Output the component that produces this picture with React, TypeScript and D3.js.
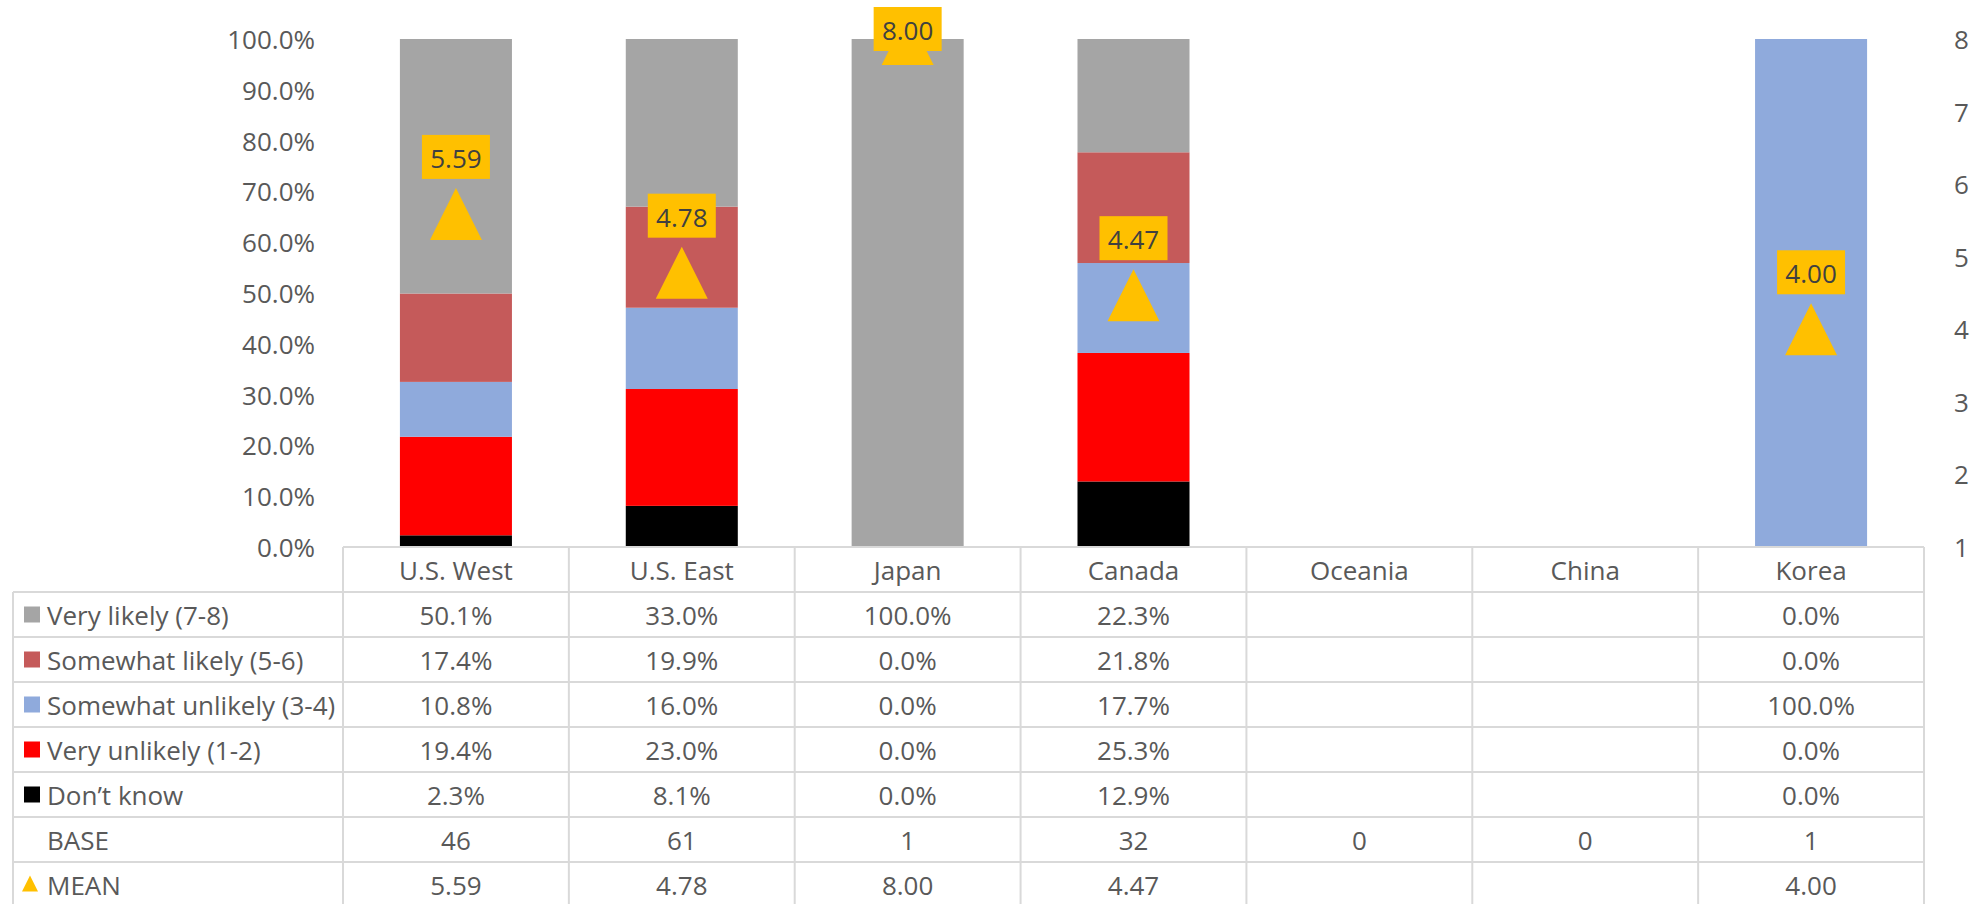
import React from "react";
import * as d3 from "d3";

const categories = ["U.S. West", "U.S. East", "Japan", "Canada", "Oceania", "China", "Korea"];
const seriesNames = ["Very likely (7-8)", "Somewhat likely (5-6)", "Somewhat unlikely (3-4)", "Very unlikely (1-2)", "Don\u2019t know"];
const seriesColors = ["#A5A5A5", "#C55A5A", "#8FAADC", "#FF0000", "#000000"];
const veryLikely = [50.1, 33.0, 100.0, 22.3, null, null, 0.0];
const somewhatLikely = [17.4, 19.9, 0.0, 21.8, null, null, 0.0];
const somewhatUnlikely = [10.8, 16.0, 0.0, 17.7, null, null, 100.0];
const veryUnlikely = [19.4, 23.0, 0.0, 25.3, null, null, 0.0];
const dontKnow = [2.3, 8.1, 0.0, 12.9, null, null, 0.0];
const base = [46, 61, 1, 32, 0, 0, 1];
const mean = [5.59, 4.78, 8.0, 4.47, null, null, 4.0];
const leftTicks = [0, 0.1, 0.2, 0.3, 0.4, 0.5, 0.6, 0.7, 0.8, 0.9, 1.0];
const rightTicks = [1, 2, 3, 4, 5, 6, 7, 8];

const W = 1974;
const H = 904;
const FONT = "'Open Sans', sans-serif";
const FS = 26;
const TXT = "#595959";
const GRID = "#D9D9D9";
const GOLD = "#FFC000";

export default function App() {
  const plotLeft = 343;
  const plotRight = 1924;
  const plotTop = 39;
  const plotBottom = 547;
  const rowH = 45;

  const x = d3.scaleBand<string>().domain(categories).range([plotLeft, plotRight]).padding(0);
  const yL = d3.scaleLinear().domain([0, 1]).range([plotBottom, plotTop]);
  const yR = d3.scaleLinear().domain([1, 8]).range([plotBottom, plotTop]);
  const step = x.bandwidth();
  const barW = step * 0.496;

  const seriesArrays = [veryLikely, somewhatLikely, somewhatUnlikely, veryUnlikely, dontKnow];
  const rows = categories.map((c, i) => {
    const r: any = { cat: c };
    seriesNames.forEach((s, k) => (r[s] = (seriesArrays[k][i] ?? 0) / 100));
    return r;
  });
  const stackOrder = [...seriesNames].reverse(); // bottom: Don't know
  const stacked = d3.stack<any>().keys(stackOrder)(rows);

  const tableRows: { label: string; color?: string; tri?: boolean; values: string[] }[] = [
    ...seriesNames.map((s, k) => ({
      label: s,
      color: seriesColors[k],
      values: seriesArrays[k].map((v) => (v == null ? "" : v.toFixed(1) + "%")),
    })),
    { label: "BASE", values: base.map((b) => String(b)) },
    { label: "MEAN", tri: true, values: mean.map((m) => (m == null ? "" : m.toFixed(2))) },
  ];

  const tableTop = plotBottom;
  const tableBottom = tableTop + rowH * (tableRows.length + 1);
  const tableLeft = 13;

  const triPath = (cx: number, cy: number, w: number, h: number) => {
    const p = d3.path();
    p.moveTo(cx, cy - h / 2);
    p.lineTo(cx + w / 2, cy + h / 2);
    p.lineTo(cx - w / 2, cy + h / 2);
    p.closePath();
    return p.toString();
  };

  return (
    <svg width={W} height={H} style={{ position: "absolute", left: 0, top: 0, background: "#fff" }} fontFamily={FONT}>
      {/* left axis labels */}
      {leftTicks.map((t) => (
        <text key={"l" + t} x={315} y={yL(t)} textAnchor="end" dominantBaseline="central" fontSize={FS} fill={TXT}>
          {d3.format(".1%")(t)}
        </text>
      ))}
      {/* right axis labels */}
      {rightTicks.map((t) => (
        <text key={"r" + t} x={1954} y={yR(t)} textAnchor="start" dominantBaseline="central" fontSize={FS} fill={TXT}>
          {t}
        </text>
      ))}
      {/* bars */}
      {stacked.map((layer) => {
        const color = seriesColors[seriesNames.indexOf(layer.key)];
        return (
          <g key={layer.key} fill={color}>
            {layer.map((d, i) => {
              const h = yL(d[0]) - yL(d[1]);
              if (!(h > 0)) return null;
              const cx = (x(categories[i]) as number) + step / 2;
              return <rect key={i} x={cx - barW / 2} y={yL(d[1])} width={barW} height={h} />;
            })}
          </g>
        );
      })}
      {/* mean markers */}
      {mean.map((m, i) => {
        if (m == null) return null;
        const cx = (x(categories[i]) as number) + step / 2;
        return <path key={"t" + i} d={triPath(cx, yR(m), 52, 52)} fill={GOLD} />;
      })}
      {mean.map((m, i) => {
        if (m == null) return null;
        const cx = (x(categories[i]) as number) + step / 2;
        const cy = Math.max(yR(m) - 57, 29);
        return (
          <g key={"lb" + i}>
            <rect x={cx - 34} y={cy - 22} width={68} height={44} fill={GOLD} />
            <text x={cx} y={cy + 1} textAnchor="middle" dominantBaseline="central" fontSize={FS} fill="#404040">
              {m.toFixed(2)}
            </text>
          </g>
        );
      })}
      {/* table grid */}
      <g stroke={GRID} strokeWidth={2} fill="none">
        <line x1={plotLeft} x2={plotRight} y1={tableTop} y2={tableTop} />
        {tableRows.map((_, r) => (
          <line key={"h" + r} x1={tableLeft} x2={plotRight} y1={tableTop + rowH * (r + 1)} y2={tableTop + rowH * (r + 1)} />
        ))}
        <line x1={plotRight} x2={plotRight} y1={tableTop} y2={tableBottom} />
        <line x1={tableLeft} x2={tableLeft} y1={tableTop + rowH} y2={tableBottom} />
        {categories.map((c) => (
          <line key={"v" + c} x1={x(c)} x2={x(c)} y1={tableTop} y2={tableBottom} />
        ))}
        <line x1={tableLeft} x2={plotRight} y1={tableBottom} y2={tableBottom} />
      </g>
      {/* header */}
      {categories.map((c) => (
        <text key={"hd" + c} x={(x(c) as number) + step / 2} y={tableTop + rowH / 2} textAnchor="middle" dominantBaseline="central" fontSize={FS} fill={TXT}>
          {c}
        </text>
      ))}
      {/* rows */}
      {tableRows.map((row, r) => {
        const cy = tableTop + rowH * (r + 1) + rowH / 2;
        return (
          <g key={"row" + r}>
            {row.color && <rect x={24} y={cy - 8} width={16} height={16} fill={row.color} />}
            {row.tri && <path d={triPath(30, cy - 1, 16, 16)} fill={GOLD} />}
            <text x={47} y={cy} dominantBaseline="central" fontSize={FS} fill={TXT}>
              {row.label}
            </text>
            {row.values.map((v, i) => (
              <text key={i} x={(x(categories[i]) as number) + step / 2} y={cy} textAnchor="middle" dominantBaseline="central" fontSize={FS} fill={TXT}>
                {v}
              </text>
            ))}
          </g>
        );
      })}
    </svg>
  );
}
